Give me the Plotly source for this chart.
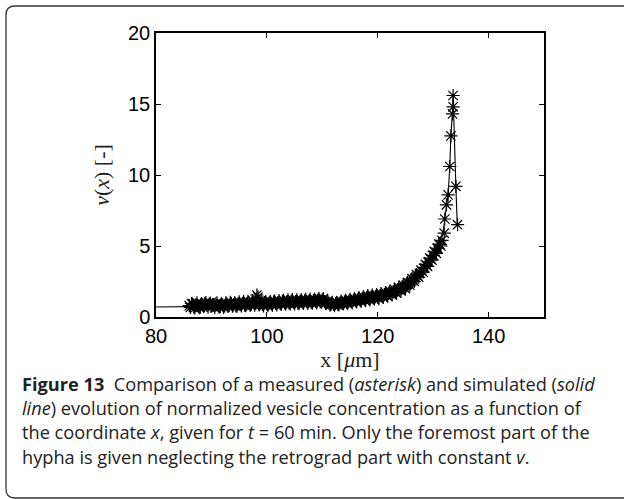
import plotly.graph_objects as go

# measured data (asterisks), first sweep
meas_x = [86.0, 86.4, 86.8, 87.2, 87.6, 88.0, 88.4, 88.8, 89.2, 89.6,
          90.0, 90.4, 90.8, 91.2, 91.6, 92.0, 92.4, 92.8, 93.2, 93.6,
          94.0, 94.4, 94.8, 95.2, 95.6, 96.0, 96.4, 96.8, 97.2, 97.6,
          98.0, 98.4, 98.8, 99.2, 99.6, 100.0, 100.4, 100.8, 101.2, 101.6,
          102.0, 102.4, 102.8, 103.2, 103.6, 104.0, 104.4, 104.8, 105.2, 105.6,
          106.0, 106.4, 106.8, 107.2, 107.6, 108.0, 108.4, 108.8, 109.2, 109.6,
          110.0, 110.4, 110.8, 111.2, 111.6, 112.0, 112.4, 112.8, 113.2, 113.6,
          114.0, 114.4, 114.8, 115.2, 115.6, 116.0, 116.4, 116.8, 117.2, 117.6,
          118.0, 118.4, 118.8, 119.2, 119.6, 120.0, 120.4, 120.8, 121.2, 121.6,
          122.0, 122.4, 122.8, 123.2, 123.6, 124.0, 124.4, 124.8, 125.2, 125.6,
          126.0, 126.4, 126.8, 127.2, 127.6, 128.0, 128.4, 128.8, 129.2, 129.6,
          130.0, 130.4, 130.8, 131.2, 131.6, 132.0, 132.1, 132.4, 132.7, 133.0,
          133.2, 133.5, 133.6, 133.6, 134.1, 134.4]
meas_y = [0.80, 0.95, 0.72, 0.85, 0.78, 0.70, 0.88, 0.96, 0.82, 0.90,
          0.76, 0.84, 0.92, 0.80, 0.74, 0.86, 0.78, 0.90, 0.82, 0.95,
          0.86, 0.80, 0.93, 0.88, 0.97, 0.84, 0.92, 1.00, 0.90, 1.05,
          0.94, 1.40, 0.96, 0.88, 1.02, 0.90, 0.98, 0.92, 1.06, 0.95,
          1.02, 0.96, 1.10, 1.00, 1.06, 0.98, 1.12, 1.04, 1.08, 0.98,
          1.10, 1.04, 1.14, 1.06, 1.12, 1.02, 1.16, 1.10, 1.20, 1.12,
          1.22, 1.08, 1.02, 0.98, 0.92, 0.88, 0.94, 0.90, 1.00, 0.96,
          1.06, 1.02, 1.12, 1.08, 1.18, 1.14, 1.24, 1.20, 1.30, 1.22,
          1.36, 1.30, 1.40, 1.34, 1.44, 1.38, 1.50, 1.46, 1.58, 1.54,
          1.66, 1.64, 1.78, 1.76, 1.90, 1.92, 2.06, 2.10, 2.26, 2.34,
          2.50, 2.60, 2.78, 2.90, 3.08, 3.24, 3.46, 3.64, 3.88, 4.08,
          4.34, 4.56, 4.84, 5.10, 5.40, 5.90, 6.90, 7.90, 8.60, 10.60,
          12.75, 14.30, 14.80, 15.60, 9.20, 6.50]

# measured data (asterisks), interleaved second sweep
meas2_x = [86.2, 86.6, 87.0, 87.4, 87.8, 88.2, 88.6, 89.0, 89.4, 89.8,
           90.2, 90.6, 91.0, 91.4, 91.8, 92.2, 92.6, 93.0, 93.4, 93.8,
           94.2, 94.6, 95.0, 95.4, 95.8, 96.2, 96.6, 97.0, 97.4, 97.8,
           98.2, 98.6, 99.0, 99.4, 99.8, 100.2, 100.6, 101.0, 101.4, 101.8,
           102.2, 102.6, 103.0, 103.4, 103.8, 104.2, 104.6, 105.0, 105.4, 105.8,
           106.2, 106.6, 107.0, 107.4, 107.8, 108.2, 108.6, 109.0, 109.4, 109.8,
           110.2, 110.6, 111.0, 111.4, 111.8, 112.2, 112.6, 113.0, 113.4, 113.8,
           114.2, 114.6, 115.0, 115.4, 115.8, 116.2, 116.6, 117.0, 117.4, 117.8,
           118.2, 118.6, 119.0, 119.4, 119.8, 120.2, 120.6, 121.0, 121.4, 121.8,
           122.2, 122.6, 123.0, 123.4, 123.8, 124.2, 124.6, 125.0, 125.4, 125.8,
           126.2, 126.6, 127.0, 127.4, 127.8, 128.2, 128.6, 129.0, 129.4, 129.8,
           130.2, 130.6, 131.0, 131.4]
meas2_y = [0.68, 0.90, 0.62, 1.00, 0.66, 0.94, 0.74, 1.02, 0.70, 0.98,
           0.88, 0.66, 1.00, 0.70, 0.94, 0.68, 1.00, 0.74, 1.04, 0.76,
           1.02, 0.74, 1.06, 0.78, 1.08, 0.80, 1.10, 0.82, 1.14, 0.84,
           1.55, 0.86, 1.10, 0.78, 1.08, 0.80, 1.10, 0.84, 1.14, 0.86,
           1.16, 0.88, 1.18, 0.90, 1.20, 0.92, 1.22, 0.92, 1.20, 0.94,
           1.22, 0.96, 1.24, 0.96, 1.26, 0.98, 1.26, 1.00, 1.32, 1.02,
           1.30, 0.96, 1.12, 0.84, 1.04, 0.80, 1.04, 0.86, 1.12, 0.92,
           1.18, 0.96, 1.24, 1.00, 1.30, 1.06, 1.36, 1.10, 1.42, 1.16,
           1.50, 1.20, 1.54, 1.26, 1.58, 1.30, 1.64, 1.38, 1.72, 1.46,
           1.82, 1.56, 1.94, 1.68, 2.08, 1.84, 2.24, 2.00, 2.44, 2.24,
           2.70, 2.50, 2.98, 2.80, 3.30, 3.16, 3.70, 3.56, 4.14, 4.00,
           4.62, 4.48, 5.14, 5.00]

# simulated data (solid line)
sim_x = [80.0, 86.0, 90.0, 95.0, 100.0, 105.0, 110.0, 114.0, 118.0, 120.0,
         122.0, 124.0, 126.0, 127.0, 128.0, 129.0, 130.0, 131.0, 131.8, 132.3,
         132.7, 133.0, 133.2, 133.5, 133.6, 134.1, 134.35]
sim_y = [0.70, 0.70, 0.75, 0.82, 0.88, 0.95, 1.02, 1.10, 1.25, 1.35,
         1.55, 1.85, 2.30, 2.65, 3.05, 3.60, 4.25, 5.10, 6.00, 7.50,
         8.60, 10.60, 12.75, 14.50, 15.60, 9.20, 6.50]

x_ticks = [80, 100, 120, 140]
y_ticks = [0, 5, 10, 15, 20]

caption_lines = [
    "<b>Figure 13</b>  Comparison of a measured (<i>asterisk</i>) and simulated (<i>solid</i>",
    "<i>line</i>) evolution of normalized vesicle concentration as a function of",
    "the coordinate <i>x</i>, given for <i>t</i> = 60 min. Only the foremost part of the",
    "hypha is given neglecting the retrograd part with constant <i>v</i>.",
]

W, H = 624, 499
L, R, T, B = 156, 544, 33, 317

fig = go.Figure()
fig.add_trace(go.Scatter(x=sim_x, y=sim_y, mode="lines",
                         line=dict(color="black", width=1.1), showlegend=False))
fig.add_trace(go.Scatter(x=meas2_x + meas_x, y=meas2_y + meas_y, mode="markers",
                         marker=dict(symbol="asterisk-open", size=11, color="black",
                                     line=dict(color="black", width=1.2)),
                         showlegend=False))

axis_common = dict(showline=True, linecolor="black", linewidth=1.5, mirror="ticks",
                   ticks="inside", ticklen=5, tickwidth=1, tickcolor="black",
                   showgrid=False, zeroline=False,
                   tickfont=dict(family="Liberation Sans", size=20, color="black"))

fig.update_xaxes(range=[80, 150], tickvals=x_ticks, **axis_common,
                 title=dict(text="x [<i>μ</i>m]", standoff=4,
                            font=dict(family="Liberation Serif", size=22, color="#222")))
fig.update_yaxes(range=[0, 20], tickvals=y_ticks, **axis_common,
                 title=dict(text="<i>v</i>(<i>x</i>) [-]", standoff=12,
                            font=dict(family="Liberation Serif", size=22, color="#222")))

def px2paper(px, py):
    return (px - L) / (R - L), (B - py) / (B - T)

# rounded border box
x0, y0 = px2paper(6, 6)
x1, y1 = px2paper(640, 498)
rx = 9 / (R - L)
ry = 9 / (B - T)
path = (f"M {x0},{y1 + ry} L {x0},{y0 - ry} Q {x0},{y0} {x0 + rx},{y0} "
        f"L {x1 - rx},{y0} Q {x1},{y0} {x1},{y0 - ry} L {x1},{y1 + ry} "
        f"Q {x1},{y1} {x1 - rx},{y1} L {x0 + rx},{y1} Q {x0},{y1} {x0},{y1 + ry} Z")
fig.add_shape(type="path", path=path, xref="paper", yref="paper",
              line=dict(color="#333", width=1.3), fillcolor="rgba(0,0,0,0)", layer="below")

for i, line in enumerate(caption_lines):
    cx, cy = px2paper(20, 384 + i * 24.2)
    fig.add_annotation(text=line, x=cx, y=cy, xref="paper", yref="paper",
                       xanchor="left", yanchor="middle", showarrow=False,
                       font=dict(family="Open Sans", size=18.2, color="#222"))

fig.update_layout(width=W, height=H, margin=dict(l=L, r=W - R, t=T, b=H - B),
                  plot_bgcolor="white", paper_bgcolor="white")

fig.write_html("out.html", config={"displayModeBar": False},
               post_script="document.body.style.margin='0';document.body.style.overflow='hidden';")
